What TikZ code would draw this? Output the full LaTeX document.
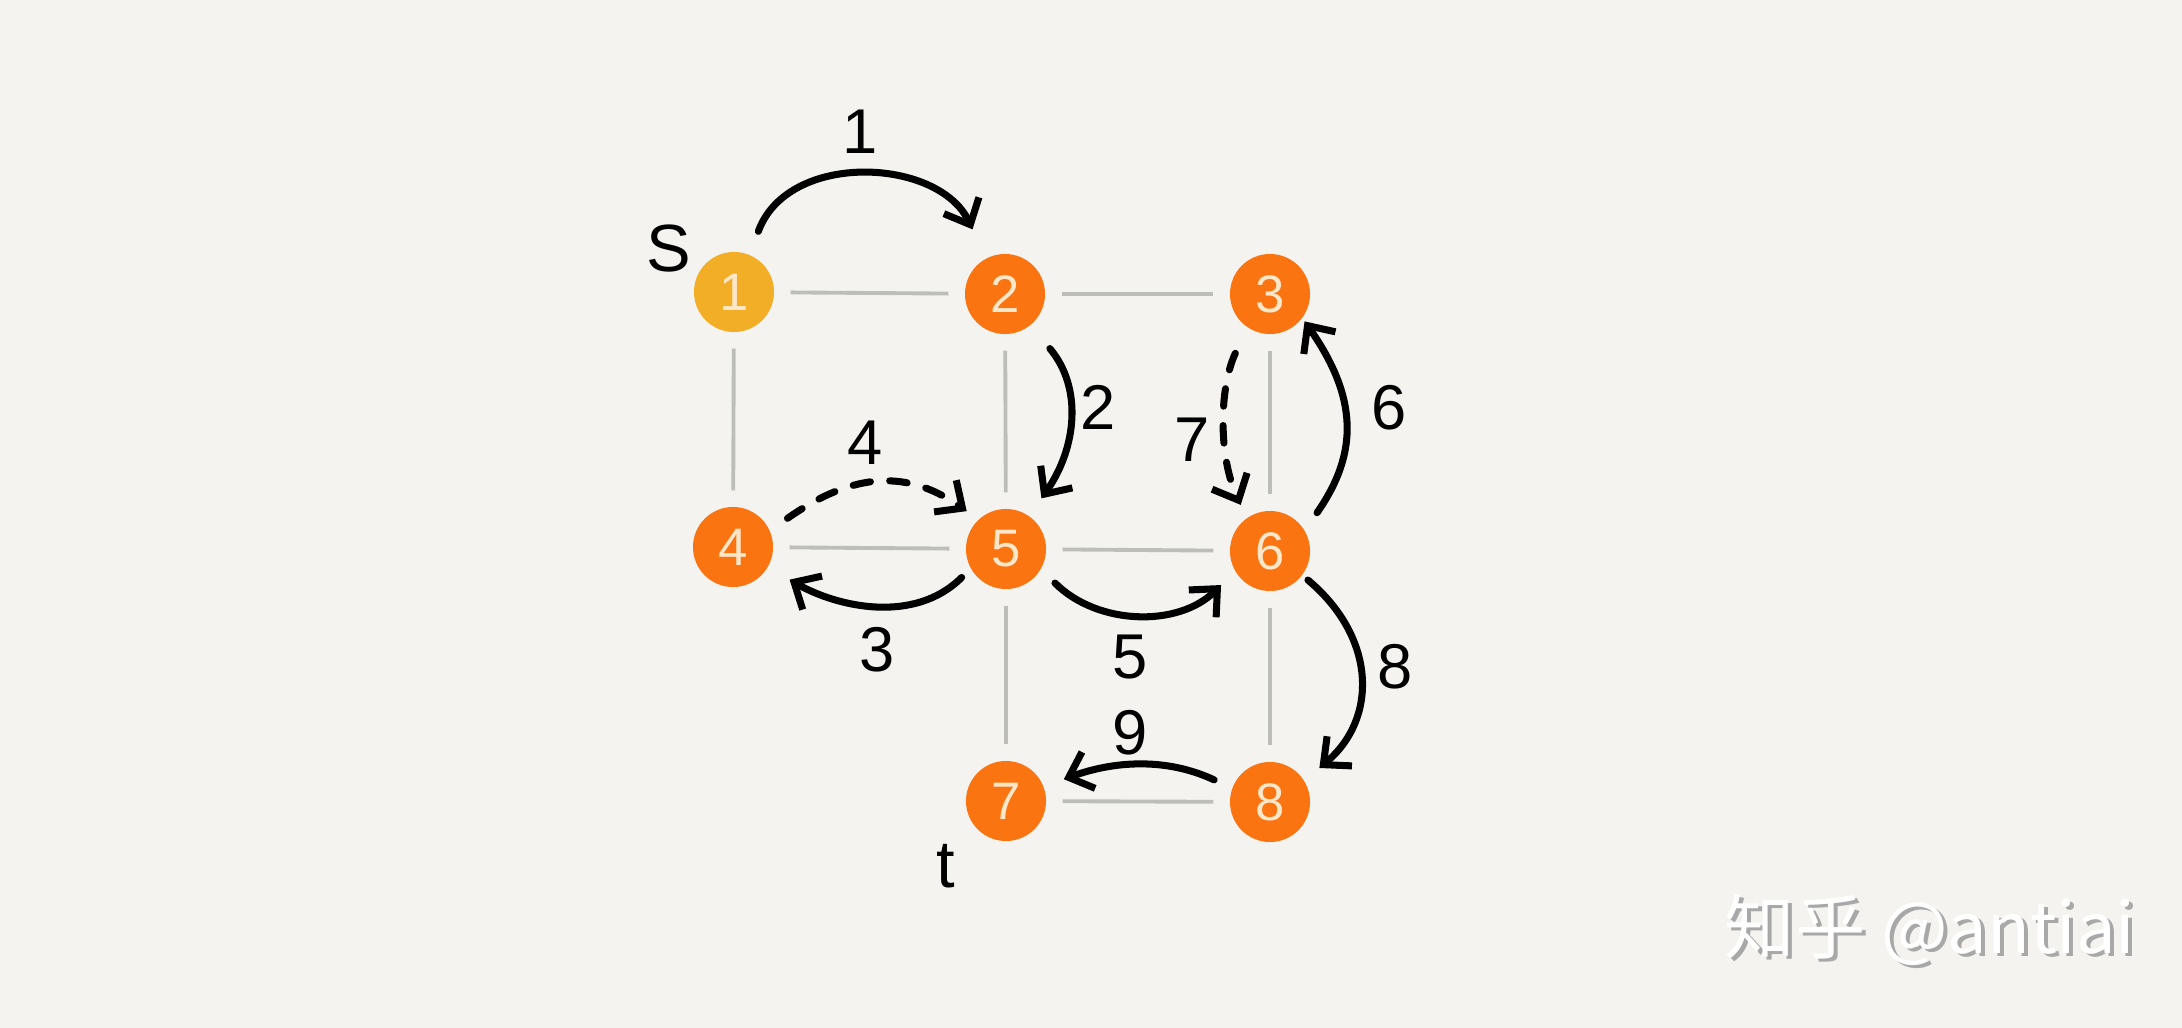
\documentclass[tikz,border=0pt]{standalone}
\usepackage{fontspec}
\setmainfont{Liberation Sans}
\newfontfamily\cjkfont{Noto Sans CJK SC}
\usetikzlibrary{arrows.meta}
\definecolor{paper}{RGB}{244,243,239}
\definecolor{vertexorange}{RGB}{250,116,18}
\definecolor{sourceyellow}{RGB}{241,174,38}
\definecolor{digitcream}{RGB}{253,231,200}
\definecolor{gridgrey}{RGB}{190,190,185}
\definecolor{markgrey}{RGB}{168,168,168}

\begin{document}
\begin{tikzpicture}[x=0.01cm, y=0.01cm, >={Straight Barb[length=6pt,width=11pt]},
		vertex/.style={circle, fill=vertexorange, minimum size=0.8cm, inner sep=0pt, text=digitcream, font=\fontsize{15}{15}\selectfont},
		gridline/.style={draw=gridgrey, line width=1.1pt, shorten <=4.5pt, shorten >=4.5pt},
		hop/.style={->, line width=2pt, line cap=round, line join=round},
		tryhop/.style={hop, dash pattern=on 5pt off 5.5pt},
		weight/.style={font=\fontsize{18}{18}\selectfont}]
		\fill[paper] (0,0) rectangle (2182,-1028);
		\useasboundingbox (0,0) rectangle (2182,-1028);
		\node[vertex, fill=sourceyellow] (n1) at (734,-292) {1};
		\node[vertex] (n2) at (1005,-294) {2};
		\node[vertex] (n3) at (1270,-294) {3};
		\node[vertex] (n4) at (733,-547) {4};
		\node[vertex] (n5) at (1006,-549) {5};
		\node[vertex] (n6) at (1270,-551) {6};
		\node[vertex] (n7) at (1006,-801) {7};
		\node[vertex] (n8) at (1270,-802) {8};
		\node[font=\fontsize{19}{19}\selectfont] (source) at (669,-249) {S};
		\node[font=\fontsize{19}{19}\selectfont] (target) at (946,-866) {t};
		\draw[gridline] (n1) -- (n2);
		\draw[gridline] (n2) -- (n3);
		\draw[gridline] (n1) -- (n4);
		\draw[gridline] (n2) -- (n5);
		\draw[gridline] (n3) -- (n6);
		\draw[gridline] (n4) -- (n5);
		\draw[gridline] (n5) -- (n6);
		\draw[gridline] (n5) -- (n7);
		\draw[gridline] (n6) -- (n8);
		\draw[gridline] (n7) -- (n8);
		\draw[hop, shorten <=7pt, shorten >=9pt] (n1.67) to[out=70, in=115, looseness=1.2] (n2.118);
		\draw[hop, shorten <=8.5pt, shorten >=6pt] (n2.-51) to[out=-50, in=55, looseness=1.1] (n5.55);
		\draw[tryhop, shorten <=8pt, shorten >=4pt] (n3.-124) to[out=-115, in=115, looseness=0.9] (n6.125);
		\draw[hop, shorten <=6pt, shorten >=1pt] (n6.31) to[out=55, in=-55, looseness=1.15] (n3.-37);
		\draw[tryhop, shorten <=6pt, shorten >=4pt] (n4.24) to[out=35, in=145, looseness=1.15] (n5.133);
		\draw[hop, shorten <=3.5pt, shorten >=7pt] (n5.-151) to[out=-135, in=-30, looseness=1.0] (n4.-30);
		\draw[hop, shorten <=5.5pt, shorten >=5.5pt] (n5.-30) to[out=-45, in=-135, looseness=1.05] (n6.-150);
		\draw[hop, shorten <=2pt, shorten >=5.5pt] (n6.-37) to[out=-40, in=40, looseness=1.2] (n8.32);
		\draw[hop, shorten <=5.5pt, shorten >=6pt] (n8.160) to[out=155, in=20, looseness=1.0] (n7.21);
		\node[weight] (w12) at (860,-132) {1};
		\node[weight] (w25) at (1098,-407) {2};
		\node[weight] (w36) at (1192,-440) {7};
		\node[weight] (w63) at (1389,-408) {6};
		\node[weight] (w45) at (865,-443) {4};
		\node[weight] (w54) at (877,-650) {3};
		\node[weight] (w56) at (1130,-657) {5};
		\node[weight] (w68) at (1395,-667) {8};
		\node[weight] (w87) at (1130,-733) {9};
		\node[text=markgrey, font=\cjkfont\fontsize{20}{20}\selectfont] (markshadow) at (1934,-933) {知乎 @antiai};
		\node[text=white, font=\cjkfont\fontsize{20}{20}\selectfont] (mark) at (1930,-930) {知乎 @antiai};
	\end{tikzpicture}
\end{document}
